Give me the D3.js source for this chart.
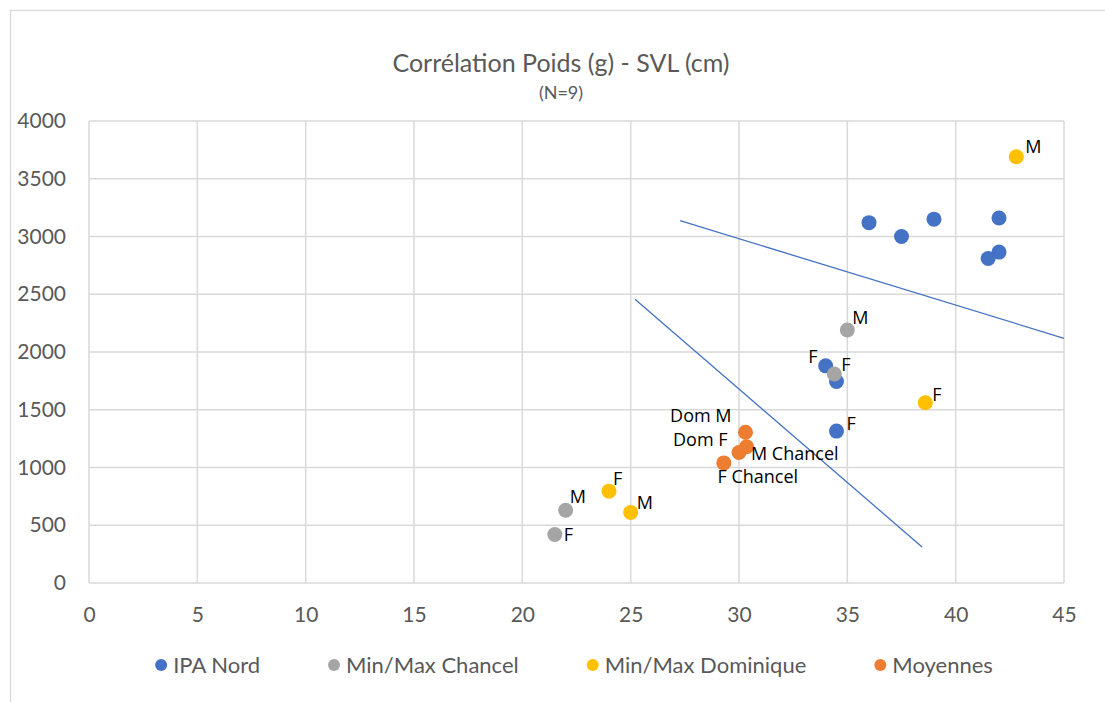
<!DOCTYPE html>
<html>
<head>
<meta charset="utf-8">
<script src="https://cdn.jsdelivr.net/npm/d3@7"></script>
<style>
  body { margin: 0; background: #fff; }
  svg text { font-family: Lato, "Liberation Sans", sans-serif; }
</style>
</head>
<body>
<div id="chart"></div>
<script>
// data
var ipaX = [36, 37.5, 39, 42, 42, 41.5, 34, 34.5, 34.5];
var ipaY = [3120, 3000, 3150, 3160, 2865, 2810, 1880, 1745, 1315];
var ipaLabels = ["", "", "", "", "", "", "F", "", "F"];

var chancelX = [35, 34.4, 22, 21.5];
var chancelY = [2190, 1810, 630, 420];
var chancelLabels = ["M", "F", "M", "F"];

var domX = [42.8, 38.6, 24, 25];
var domY = [3690, 1560, 795, 610];
var domLabels = ["M", "F", "F", "M"];

var moyX = [30.3, 30.35, 30, 29.3];
var moyY = [1305, 1180, 1130, 1040];
var moyLabels = ["Dom M", "Dom F", "M Chancel", "F Chancel"];

var trend1X = [27.28, 45];
var trend1Y = [3137, 2119];
var trend2X = [25.2, 38.45];
var trend2Y = [2456, 312];

var xTicks = [0, 5, 10, 15, 20, 25, 30, 35, 40, 45];
var yTicks = [0, 500, 1000, 1500, 2000, 2500, 3000, 3500, 4000];

var seriesNames = ["IPA Nord", "Min/Max Chancel", "Min/Max Dominique", "Moyennes"];
var seriesColors = ["#4472C4", "#A5A5A5", "#FFC000", "#ED7D31"];

// label placement (layout only): [dx, dy, anchor] per series / point
var labelNudge = [
    [null, null, null, null, null, null, [-8, -9, "end"], null, [10, -7, "start"]],
    [[5, -12, "start"], [7, -9, "start"], [4, -14, "start"], [9, 0, "start"]],
    [[9, -10, "start"], [7, -8, "start"], [4, -12, "start"], [6, -10, "start"]],
    [[-14, -17, "end"], [-19, -7, "end"], [12, 1, "start"], [34, 14, "middle"]]
];

var W = 1105, H = 702;
var plotL = 89, plotR = 1064, plotT = 121, plotB = 583;

var svg = d3.select("#chart").append("svg")
    .attr("width", W)
    .attr("height", H);

svg.append("rect")
    .attr("x", 10.5).attr("y", 10.5)
    .attr("width", 1100).attr("height", 700)
    .attr("fill", "#fff")
    .attr("stroke", "#d9d9d9")
    .attr("stroke-width", 1.3);

var x = d3.scaleLinear().domain([0, 45]).range([plotL, plotR]);
var y = d3.scaleLinear().domain([0, 4000]).range([plotB, plotT]);

// grid
var grid = svg.append("g");
grid.selectAll("line.v").data(xTicks).enter().append("line")
    .attr("x1", function(d){ return x(d); })
    .attr("x2", function(d){ return x(d); })
    .attr("y1", plotT).attr("y2", plotB)
    .attr("stroke", "#d9d9d9").attr("stroke-width", 1.5);
grid.selectAll("line.h").data(yTicks).enter().append("line")
    .attr("x1", plotL).attr("x2", plotR)
    .attr("y1", function(d){ return y(d); })
    .attr("y2", function(d){ return y(d); })
    .attr("stroke", "#d9d9d9").attr("stroke-width", 1.5);

// axes (labels only, lines are the grid)
var xAxis = svg.append("g")
    .attr("transform", "translate(0," + plotB + ")")
    .call(d3.axisBottom(x).tickValues(xTicks).tickSize(0).tickPadding(24));
var yAxis = svg.append("g")
    .attr("transform", "translate(" + plotL + ",0)")
    .call(d3.axisLeft(y).tickValues(yTicks).tickSize(0).tickPadding(23).tickFormat(d3.format("d")));
[xAxis, yAxis].forEach(function(a){
    a.select(".domain").remove();
    a.selectAll("text")
        .style("font-family", "Lato, 'Liberation Sans', sans-serif")
        .style("font-size", "21px")
        .attr("fill", "#595959");
});

// trend lines
[[trend1X, trend1Y], [trend2X, trend2Y]].forEach(function(t){
    svg.append("line")
        .attr("x1", x(t[0][0])).attr("y1", y(t[1][0]))
        .attr("x2", x(t[0][1])).attr("y2", y(t[1][1]))
        .attr("stroke", "#4472C4")
        .attr("stroke-width", 1.3);
});

// points
var series = [
    [ipaX, ipaY, ipaLabels],
    [chancelX, chancelY, chancelLabels],
    [domX, domY, domLabels],
    [moyX, moyY, moyLabels]
];

series.forEach(function(s, si){
    var pts = s[0].map(function(v, i){ return {x: v, y: s[1][i], label: s[2][i], i: i}; });
    var g = svg.append("g");
    g.selectAll("circle").data(pts).enter().append("circle")
        .attr("cx", function(d){ return x(d.x); })
        .attr("cy", function(d){ return y(d.y); })
        .attr("r", 7.5)
        .attr("fill", seriesColors[si]);
});

// data labels on top
series.forEach(function(s, si){
    var pts = s[0].map(function(v, i){ return {x: v, y: s[1][i], label: s[2][i], i: i}; })
        .filter(function(d){ return d.label !== ""; });
    svg.append("g").selectAll("text").data(pts).enter().append("text")
        .attr("x", function(d){ return x(d.x) + labelNudge[si][d.i][0]; })
        .attr("y", function(d){ return y(d.y) + labelNudge[si][d.i][1]; })
        .attr("dy", "0.35em")
        .attr("text-anchor", function(d){ return labelNudge[si][d.i][2]; })
        .style("font-family", "'Open Sans', sans-serif")
        .style("font-size", "18px")
        .attr("fill", "#000")
        .text(function(d){ return d.label; });
});

// title
svg.append("text")
    .attr("x", 561).attr("y", 72)
    .attr("text-anchor", "middle")
    .style("font-size", "25px")
    .attr("fill", "#595959")
    .text("Corrélation Poids (g) - SVL (cm)");
svg.append("text")
    .attr("x", 561).attr("y", 99)
    .attr("text-anchor", "middle")
    .style("font-size", "18px")
    .attr("fill", "#595959")
    .text("(N=9)");

// legend
var legend = svg.append("g").attr("transform", "translate(0,665)");
var items = legend.selectAll("g").data(seriesNames).enter().append("g");
items.append("circle").attr("r", 6).attr("cx", 0).attr("cy", 0)
    .attr("fill", function(d, i){ return seriesColors[i]; });
items.append("text")
    .attr("x", 12).attr("dy", "0.35em")
    .style("font-size", "22px")
    .attr("fill", "#595959")
    .text(function(d){ return d; });
var pos = 0, gap = 68, starts = [];
items.each(function(){
    starts.push(pos);
    pos += this.getBBox().width + gap;
});
var total = pos - gap;
var x0 = 574 - total / 2 + 6;
items.attr("transform", function(d, i){ return "translate(" + (x0 + starts[i]) + ",0)"; });
</script>
</body>
</html>
